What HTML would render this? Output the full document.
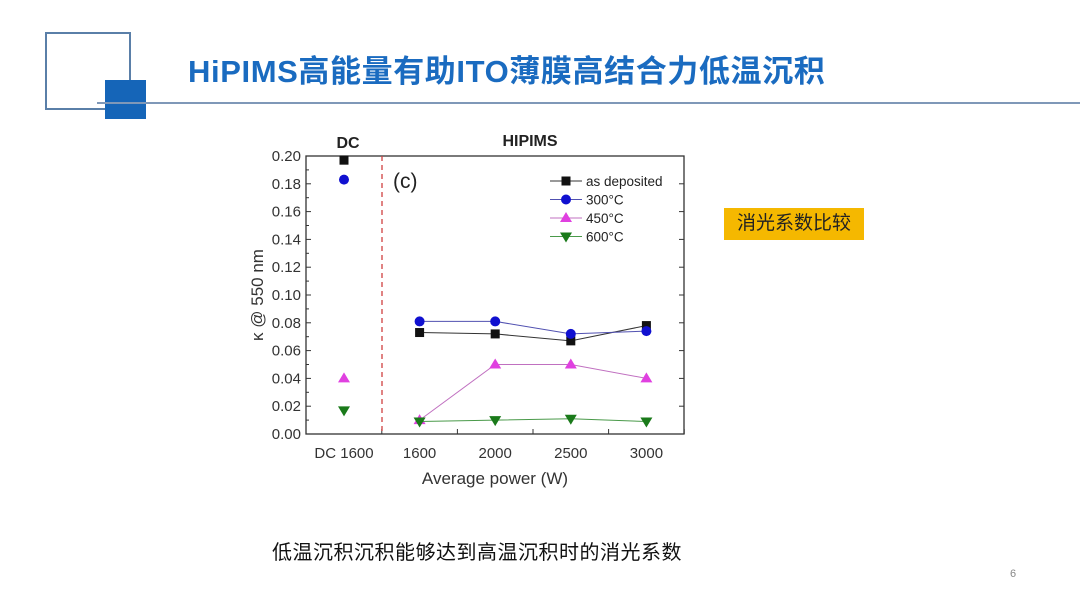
<!DOCTYPE html>
<html><head><meta charset="utf-8"><style>
body{margin:0;width:1080px;height:608px;background:#fff;position:relative;overflow:hidden;font-family:"Liberation Sans","Noto Sans CJK SC",sans-serif;}
.abs{position:absolute;}
</style></head><body>
<div class="abs" style="top:32px;border:2px solid #5a7fa8;left:45px;width:82px;height:74px;"></div>
<div class="abs" style="left:105px;top:80px;width:41px;height:39px;background:#1565b8;"></div>
<div class="abs" style="left:188px;top:46px;font-size:31px;font-weight:bold;color:#1a6bc0;letter-spacing:0.6px;">HiPIMS高能量有助ITO薄膜高结合力低温沉积</div>
<div class="abs" style="left:97px;top:102px;width:983px;height:2px;background:#7f98b8;"></div>
<div class="abs" style="left:724px;top:208px;width:140px;height:32px;background:#f5b800;font-size:19px;line-height:32px;text-align:center;color:#222;">消光系数比较</div>
<div class="abs" style="left:272px;top:536px;font-size:20px;letter-spacing:0.5px;color:#111;">低温沉积沉积能够达到高温沉积时的消光系数</div>
<div class="abs" style="left:1010px;top:568px;font-size:11px;color:#888;">6</div>
<svg class="abs" style="left:0;top:0" width="1080" height="608">
<g id="g"></g>
</svg>
<script>
const categories=["DC 1600","1600","2000","2500","3000"];
const asDeposited=[0.197,0.073,0.072,0.067,0.078];
const c300=[0.183,0.081,0.081,0.072,0.074];
const c450=[0.040,0.010,0.050,0.050,0.040];
const c600=[0.017,0.009,0.010,0.011,0.009];
const yTicks=["0.00","0.02","0.04","0.06","0.08","0.10","0.12","0.14","0.16","0.18","0.20"];
const L=306,R=684,T=156,B=434;
const x=i=>344+i*75.6;
const y=v=>B-(v/0.2)*(B-T);
const ns="http://www.w3.org/2000/svg";
const g=document.getElementById('g');
function mk(t,a,txt){const e=document.createElementNS(ns,t);for(const k in a)e.setAttribute(k,a[k]);if(txt!==undefined)e.textContent=txt;g.appendChild(e);return e;}
let e=mk('rect',{x:L,y:T,width:R-L,height:B-T,fill:'none',stroke:'#333','stroke-width':1.3});

yTicks.forEach(t=>{const v=parseFloat(t);
mk('line',{x1:L,x2:L+5,y1:y(v),y2:y(v),stroke:'#333'});mk('line',{x1:R,x2:R-5,y1:y(v),y2:y(v),stroke:'#333'});
if(v<0.2){mk('line',{x1:L,x2:L+3,y1:y(v+0.01),y2:y(v+0.01),stroke:'#333'});}
const tl=mk('text',{x:L-5,y:y(v)+5,'text-anchor':'end','font-size':15,fill:'#333'},t);
});
categories.forEach((c,i)=>{mk('line',{x1:x(i)+37.8,x2:x(i)+37.8,y1:B,y2:B-5,stroke:'#333'});
const tl=mk('text',{x:x(i),y:B+24,'text-anchor':'middle','font-size':15,fill:'#333'},c);
});
e=mk('line',{x1:382,x2:382,y1:T,y2:B,stroke:'#d04040','stroke-dasharray':'5,4','stroke-width':1.3});

e=mk('text',{x:495,y:484,'text-anchor':'middle','font-size':17,fill:'#333'},'Average power (W)');

e=mk('text',{x:0,y:0,'text-anchor':'middle','font-size':17,fill:'#333',transform:'translate(263,295) rotate(-90)'},'κ @ 550 nm');

e=mk('text',{x:348,y:148,'text-anchor':'middle','font-size':16,'font-weight':'bold',fill:'#222'},'DC');

e=mk('text',{x:530,y:146,'text-anchor':'middle','font-size':16,'font-weight':'bold',fill:'#222'},'HIPIMS');

e=mk('text',{x:393,y:188,'font-size':21,fill:'#222'},'(c)');

function marker(shape,cx,cy,col){let m;
if(shape==='sq')m=mk('rect',{x:cx-4.5,y:cy-4.5,width:9,height:9,fill:col});
else if(shape==='ci')m=mk('circle',{cx:cx,cy:cy,r:5,fill:col});
else if(shape==='up')m=mk('polygon',{points:`${cx},${cy-6} ${cx-6},${cy+4} ${cx+6},${cy+4}`,fill:col});
else m=mk('polygon',{points:`${cx},${cy+6} ${cx-6},${cy-4} ${cx+6},${cy-4}`,fill:col});
return m;}
const series=[[asDeposited,'sq','#111','#333','as deposited'],[c300,'ci','#1010d0','#5050b0','300°C'],[c450,'up','#e040e0','#c070c0','450°C'],[c600,'dn','#1a7a1a','#4a9a4a','600°C']];
series.forEach((s,k)=>{const d=s[0];
const pl=mk('polyline',{points:d.slice(1).map((v,i)=>x(i+1)+','+y(v)).join(' '),fill:'none',stroke:s[3],'stroke-width':1});

d.forEach((v,i)=>{const m=marker(s[1],x(i),y(v),s[2]);});
const ly=181+k*18.5;
mk('line',{x1:550,x2:582,y1:ly,y2:ly,stroke:s[3]});
const lm=marker(s[1],566,ly,s[2]);
const lt=mk('text',{x:586,y:ly+5,'font-size':13.5,fill:'#222'},s[4]);
});
</script>
</body></html>
